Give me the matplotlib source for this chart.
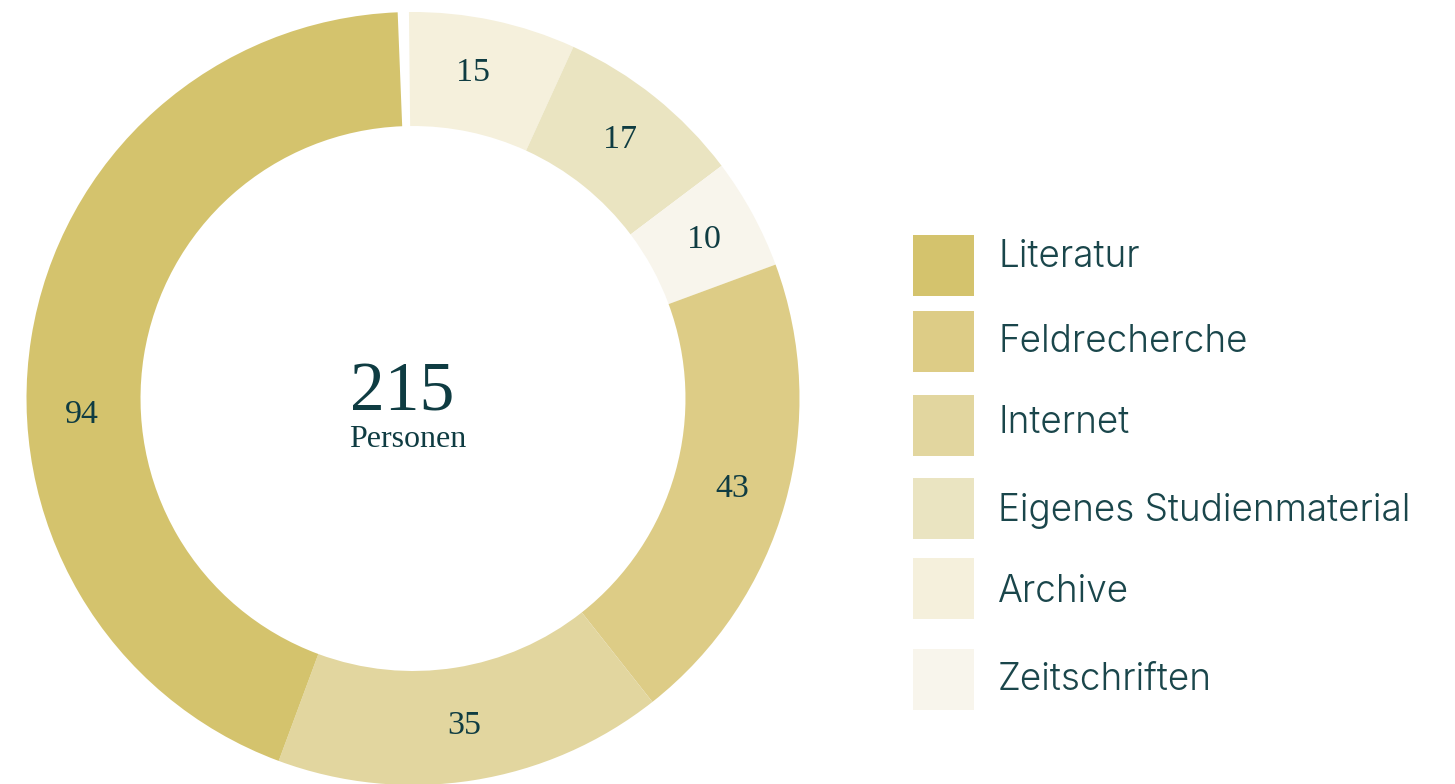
import matplotlib
matplotlib.use("Agg")
import matplotlib.pyplot as plt
import numpy as np
from matplotlib.patches import Rectangle

# ---- data ----
categories = ["Literatur", "Feldrecherche", "Internet", "Eigenes Studienmaterial", "Archive", "Zeitschriften"]
values = [94, 43, 35, 17, 15, 10]
total_label = "215"
total_sub = "Personen"
total_count = 215

# ---- style ----
colors = {
    "Literatur": "#D4C36D",
    "Feldrecherche": "#DDCC86",
    "Internet": "#E2D69F",
    "Eigenes Studienmaterial": "#EAE4C1",
    "Archive": "#F5F0DC",
    "Zeitschriften": "#F8F5EC",
}
ring_order = ["Archive", "Eigenes Studienmaterial", "Zeitschriften", "Feldrecherche", "Internet", "Literatur"]
label_shift = {"Literatur": 11.8, "Archive": 1.5}
num_color = "#0F3C42"
leg_color = "#1A464B"

W, H = 1455, 784
fig = plt.figure(figsize=(W / 100, H / 100), dpi=100)
fig.patch.set_facecolor("white")

cx, cy, R = 413.0, 398.5, 386.5
ax = fig.add_axes([(cx - R) / W, 1 - (cy + R) / H, 2 * R / W, 2 * R / H])
ax.set_axis_off()

val_map = dict(zip(categories, values))
ring_vals = [val_map[c] for c in ring_order]
gap = total_count - sum(values)
ring_vals_g = ring_vals + [gap]
ring_cols = [colors[c] for c in ring_order] + ["none"]

width = 0.295
wedges, _ = ax.pie(ring_vals_g, colors=ring_cols, startangle=90.6, counterclock=False,
                   radius=1.0, wedgeprops=dict(width=width, linewidth=0, edgecolor="none"))
ax.set_xlim(-1, 1)
ax.set_ylim(-1, 1)
ax.set_aspect("equal")

rl = 1 - width / 2 + 0.005
for w, cat in zip(wedges[:-1], ring_order):
    mid = (w.theta1 + w.theta2) / 2 + label_shift.get(cat, 0)
    a = np.deg2rad(mid)
    ax.text(rl * np.cos(a), rl * np.sin(a), str(val_map[cat]), ha="center", va="center",
            fontsize=24.5, family="Liberation Serif", color=num_color)

ax.text(-0.027, -0.03, total_label, ha="center", va="baseline", fontsize=50,
        family="Liberation Serif", color=num_color)
ax.text(-0.014, -0.125, total_sub, ha="center", va="baseline", fontsize=23,
        family="Liberation Serif", color=num_color)

# ---- legend ----
sq_tops = [235, 311, 395, 478, 558, 649]
baselines = [266.7, 351.7, 432.7, 521, 601.7, 690]
for cat, top, base in zip(categories, sq_tops, baselines):
    fig.patches.append(Rectangle((913 / W, 1 - (top + 61) / H), 61 / W, 61 / H,
                                 transform=fig.transFigure, facecolor=colors[cat],
                                 edgecolor="none"))
    fig.text(998 / W, 1 - base / H, cat, ha="left", va="baseline", fontsize=26.6,
             family="Inter", fontweight=300, color=leg_color)

fig.savefig("out.png", dpi=100, facecolor="white")
